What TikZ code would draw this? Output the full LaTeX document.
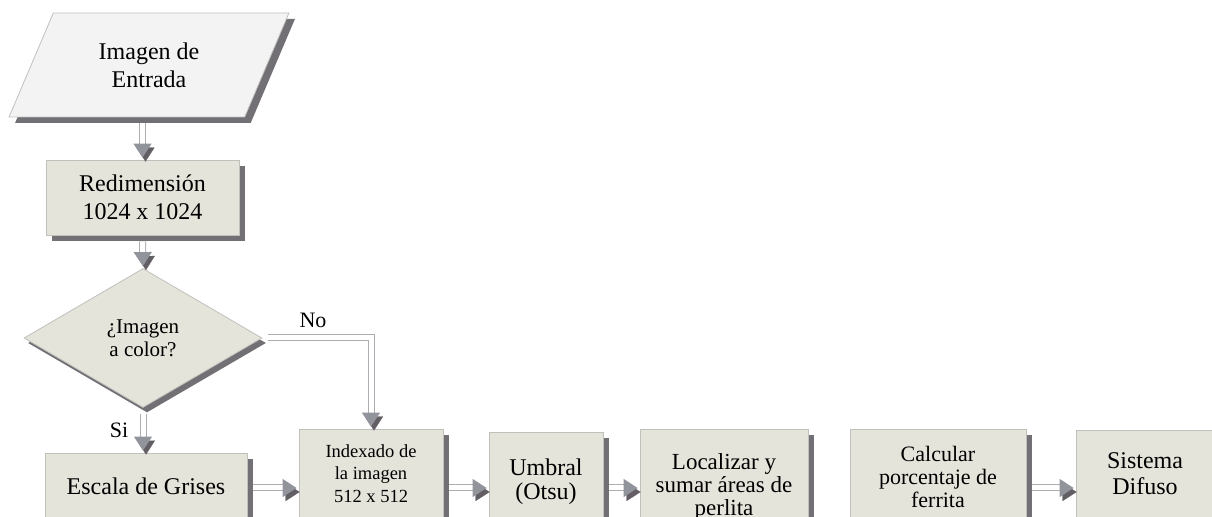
\documentclass[tikz,border=0pt]{standalone}
\usepackage{fontspec}
\setmainfont{Liberation Serif}
\usetikzlibrary{shapes.geometric,shadows,arrows.meta}

\definecolor{boxfill}{RGB}{229,228,219}
\definecolor{iofill}{RGB}{243,243,243}
\definecolor{boxline}{RGB}{192,192,188}
\definecolor{shadowgray}{RGB}{114,112,117}
\definecolor{linegray}{RGB}{172,172,177}
\definecolor{tipgray}{RGB}{146,148,155}
\definecolor{tipshadow}{RGB}{98,94,99}

\tikzset{
  box/.style={draw=boxline, line width=0.4pt, fill=boxfill, align=center, inner sep=0pt,
    font=\fontsize{12}{14}\selectfont},
  boxshadow/.style={drop shadow={shadow xshift=3pt, shadow yshift=-3pt, fill=shadowgray, opacity=1}},
  process/.style={box, boxshadow},
  io/.style={box, boxshadow, fill=iofill, trapezium, trapezium left angle=62.6,
    trapezium right angle=117.4, trapezium stretches=true},
  decision/.style={box, diamond, aspect=1.72,
    drop shadow={shadow xshift=2pt, shadow yshift=-2.5pt, fill=shadowgray, opacity=1}},
  flowline/.style={draw=linegray, line width=0.5pt, double=white, double distance=2.5pt,
    shorten <=3pt, shorten >=1pt, -{Triangle[length=7pt,width=9pt,color=tipgray]},
    preaction={draw=white, line width=0.1pt, -{Triangle[length=7pt,width=9pt,color=tipshadow]},
      transform canvas={shift={(1.5pt,-2pt)}}}},
  tag/.style={font=\fontsize{11}{11}\selectfont}
}

\begin{document}
\begin{tikzpicture}[x=0.5pt, y=-0.5pt]
	\useasboundingbox (0,0) rectangle (1212,517);
	\clip (0,0) rectangle (1212,517);

	\node[io, minimum width=141pt, minimum height=52pt] (input) at (149,65) {Imagen de\\Entrada};
	\node[process, minimum width=96.5pt, minimum height=37.5pt] (resize) at (142.5,197.5) {Redimensión\\1024 x 1024};
	\node[decision, minimum width=119pt, minimum height=69.5pt, font=\fontsize{10.5}{11.35}\selectfont] (color) at (143,338) {¿Imagen\\a color?};
	\node[process, minimum width=101pt, minimum height=32.85pt] (gray) at (146,485.8) {Escala de Grises};
	\node[process, minimum width=72pt, minimum height=44.2pt, font=\fontsize{9.25}{11.25}\selectfont] (index) at (371,473.2) {Indexado de\\la imagen\\512 x 512};
	\node[process, minimum width=57pt, minimum height=49.5pt, font=\fontsize{12}{12}\selectfont] (otsu) at (546,481.5) {Umbral\\(Otsu)};
	\node[process, minimum width=84pt, minimum height=57.7pt, font=\fontsize{11.5}{11.5}\selectfont] (pearlite) at (724,486.7) {Localizar y\\sumar áreas de\\perlita};
	\node[process, minimum width=88pt, minimum height=47.5pt, font=\fontsize{11}{11.5}\selectfont] (ferrite) at (938,476.5) {Calcular\\porcentaje de\\ferrita};
	\node[process, minimum width=69pt, minimum height=43.9pt, font=\fontsize{12}{13}\selectfont] (fuzzy) at (1145,473.9) {Sistema\\Difuso};

	\node[tag] (no) at (313,320) {No};
	\node[tag] (si) at (119,430) {Si};

	\coordinate (row) at (0,488);
	\draw[flowline] (input.south -| resize.north) -- (resize.north);
	\draw[flowline] (resize.south) -- (color.north);
	\draw[flowline] (color.south) -- (color.south |- gray.north);
	\draw[flowline] (color.east) -| (index.north);
	\draw[flowline] (gray.east |- row) -- (index.west |- row);
	\draw[flowline] (index.east |- row) -- (otsu.west |- row);
	\draw[flowline] (otsu.east |- row) -- (pearlite.west |- row);
	\draw[flowline] (ferrite.east |- row) -- (fuzzy.west |- row);
\end{tikzpicture}
\end{document}
